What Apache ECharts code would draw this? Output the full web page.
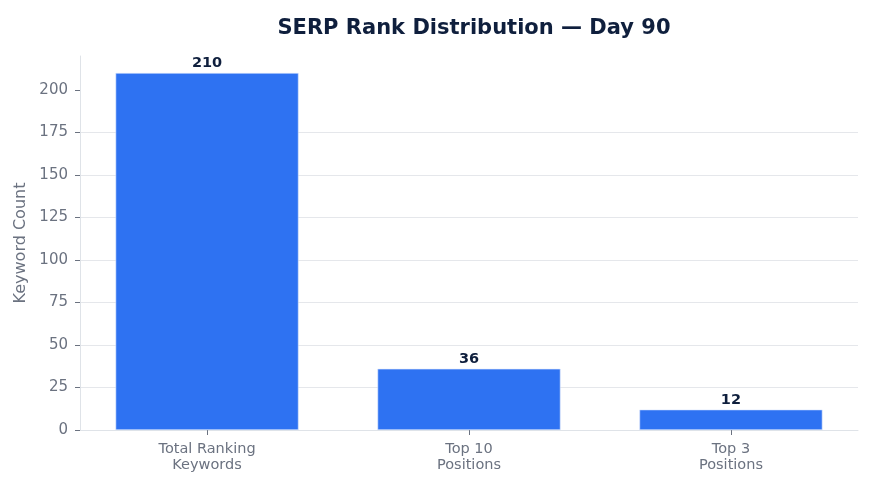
<!DOCTYPE html>
<html><head><meta charset="utf-8">
<script src="https://cdn.jsdelivr.net/npm/echarts@6/dist/echarts.min.js"></script>
<style>html,body{margin:0;padding:0;background:#fff}#c{width:875px;height:489px}</style>
</head><body><div id="c"></div>
<script>
const categories = ["Total Ranking\nKeywords", "Top 10\nPositions", "Top 3\nPositions"];
const keywordCounts = [210, 36, 12];
const yTicks = [0, 25, 50, 75, 100, 125, 150, 175, 200];
const chartTitle = "SERP Rank Distribution — Day 90";
const yAxisName = "Keyword Count";

const font = "'DejaVu Sans', sans-serif";
const catIdx = categories.map((_, i) => i);
const chart = echarts.init(document.getElementById('c'));
chart.setOption({
  animation: false,
  title: {
    text: chartTitle, left: 469, top: 13, textAlign: 'center',
    textStyle: { fontFamily: font, fontSize: 21, fontWeight: 'bold', color: '#0f1f3d' }
  },
  grid: { left: 80, right: 17, top: 56, bottom: 59, containLabel: false },
  xAxis: {
    type: 'value', min: -0.485, max: catIdx.length - 1 + 0.485,
    axisLine: { show: true, onZero: false, lineStyle: { color: '#dfe3e8', width: 1 } },
    axisTick: { show: true, length: 5, customValues: catIdx, lineStyle: { color: '#6b7280' } },
    axisLabel: { fontFamily: font, fontSize: 14.5, color: '#6b7280', margin: 11, lineHeight: 16,
      customValues: catIdx, formatter: v => categories[v] || '' },
    splitLine: { show: false }
  },
  yAxis: {
    type: 'value', min: 0, max: 220, interval: 25,
    name: yAxisName, nameLocation: 'middle', nameGap: 38, nameRotate: 90,
    nameTextStyle: { fontFamily: font, fontSize: 16, color: '#6b7280' },
    axisLine: { show: true, onZero: false, lineStyle: { color: '#dfe3e8', width: 1 } },
    axisTick: { show: true, length: 5, customValues: yTicks, lineStyle: { color: '#6b7280' } },
    axisLabel: { fontFamily: font, fontSize: 15, color: '#6b7280', margin: 12, customValues: yTicks },
    splitLine: { show: true, showMaxLine: false, lineStyle: { color: '#e5e7eb', width: 1 } }
  },
  series: [{
    type: 'bar', data: keywordCounts.map((v, i) => [i, v]), barWidth: 183,
    itemStyle: { color: '#2e72f2', borderColor: '#dbe6fb', borderWidth: 0.6 },
    label: { show: true, position: 'top', distance: 2, fontFamily: font, fontSize: 14.5, fontWeight: 'bold', color: '#0f1f3d',
      formatter: p => String(p.value[1]) }
  }]
});
</script></body></html>
